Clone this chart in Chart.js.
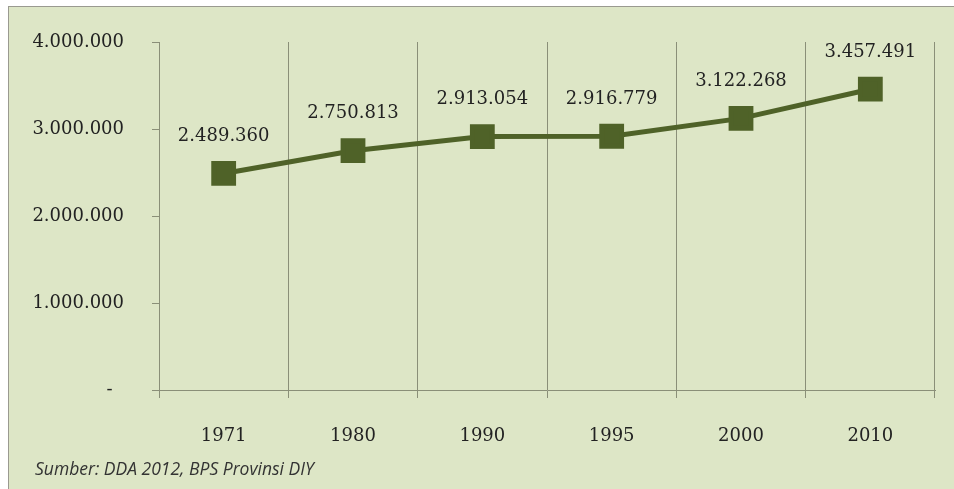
<!DOCTYPE html>
<html>
<head>
<meta charset="utf-8">
<script src="https://cdn.jsdelivr.net/npm/chart.js@4.4.1/dist/chart.umd.min.js"></script>
<style>
  html, body { margin: 0; padding: 0; background: #fff; }
  #frame { position: absolute; left: 8px; top: 6px; width: 946px; height: 483px;
           border-top: 1px solid #9a9a90; border-left: 1px solid #9a9a90; background: #dde6c6; }
  #wrap { position: absolute; left: 0; top: 0; width: 954px; height: 489px; }
</style>
</head>
<body>
<div id="frame"></div>
<div id="wrap"><canvas id="chart"></canvas></div>
<script>
const years = ["1971", "1980", "1990", "1995", "2000", "2010"];
const population = [2489360, 2750813, 2913054, 2916779, 3122268, 3457491];
const yTicks = [0, 1000000, 2000000, 3000000, 4000000];
const source = "Sumber: DDA 2012, BPS Provinsi DIY";

const fmt = v => v === 0 ? "-" : String(v).replace(/\B(?=(\d{3})+(?!\d))/g, ".");
const serif = "'DejaVu Serif', serif";

// values above each marker, like Excel data labels
const valueLabels = {
    id: "valueLabels",
    afterDatasetsDraw(chart) {
        const ctx = chart.ctx;
        const meta = chart.getDatasetMeta(0);
        ctx.save();
        ctx.font = "18px " + serif;
        ctx.fillStyle = "#222";
        ctx.textAlign = "center";
        ctx.textBaseline = "middle";
        meta.data.forEach((pt, i) => ctx.fillText(fmt(population[i]), pt.x, pt.y - 37));
        ctx.restore();
    }
};

const sourceNote = {
    id: "sourceNote",
    afterDraw(chart) {
        const ctx = chart.ctx;
        ctx.save();
        ctx.font = "italic 17.5px 'Open Sans', sans-serif";
        ctx.fillStyle = "#333";
        ctx.textBaseline = "middle";
        ctx.fillText(source, 35, 470);
        ctx.restore();
    }
};

new Chart(document.querySelector("#chart"), {
    type: "line",
    data: {
        labels: years,
        datasets: [{
            data: population,
            borderColor: "#4f6228",
            backgroundColor: "#4f6228",
            borderWidth: 5,
            pointStyle: "rect",
            pointRadius: 14,
            pointHoverRadius: 14,
            tension: 0
        }]
    },
    options: {
        responsive: true,
        maintainAspectRatio: false,
        animation: false,
        events: [],
        layout: { padding: { left: 0, right: 17, top: 42, bottom: 0 } },
        plugins: { legend: { display: false }, tooltip: { enabled: false } },
        scales: {
            x: {
                offset: true,
                afterFit: s => { s.height = 99; },
                grid: { offset: true, color: "#8a8f78", lineWidth: 1, tickLength: 8, drawOnChartArea: true },
                border: { color: "#8a8f78" },
                ticks: { color: "#222", font: { family: serif, size: 18 }, padding: 28 }
            },
            y: {
                min: 0, max: 4000000,
                afterFit: s => { s.width = 159; },
                afterBuildTicks: s => { s.ticks = yTicks.map(v => ({ value: v })); },
                grid: { drawOnChartArea: false, color: "#8a8f78", tickLength: 7 },
                border: { color: "#8a8f78" },
                ticks: { color: "#222", font: { family: serif, size: 18 }, padding: 28,
                         callback: v => v === 0 ? "-  " : fmt(v) }
            }
        }
    },
    plugins: [valueLabels, sourceNote]
});
</script>
</body>
</html>
